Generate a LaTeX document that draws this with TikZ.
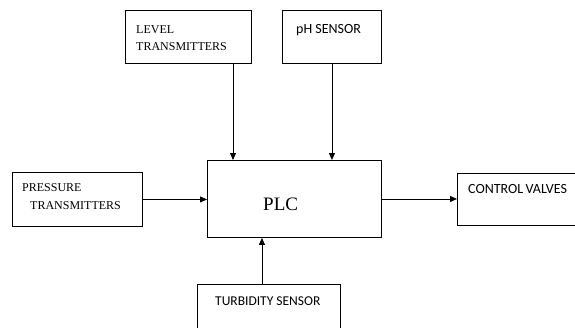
\documentclass[tikz,border=0pt]{standalone}
\usepackage{fontspec}
\setmainfont{Liberation Serif}
\newfontfamily\calibri{Carlito}
\usetikzlibrary{arrows.meta}

\begin{document}
\begin{tikzpicture}[x=1pt, y=-1pt,
  box/.style={rectangle, draw=black, line width=0.9pt, inner sep=0pt, anchor=north west},
  serif/.style={font=\fontsize{12}{17}\selectfont, inner sep=0pt, anchor=north west, align=left},
  sans/.style={font=\calibri\fontsize{14}{17}\selectfont, inner sep=0pt, anchor=north west},
  arrow/.style={-{Triangle[length=7pt, width=6pt]}, line width=0.9pt}
]
\clip (0,0) rectangle (575,327);

% boxes
\node[box, minimum width=174pt, minimum height=77pt] (plc) at (207,160) {};
\node[box, minimum width=126pt, minimum height=53pt] (level) at (125,10) {};
\node[box, minimum width=99pt, minimum height=53pt] (ph) at (282,10) {};
\node[box, minimum width=130pt, minimum height=54pt] (pressure) at (12,172) {};
\node[box, minimum width=140pt, minimum height=52pt] (valves) at (457,173) {};
\node[box, minimum width=143pt, minimum height=54pt] (turbidity) at (197,284) {};

% texts
\node[font=\fontsize{19}{22}\selectfont, inner sep=0pt, anchor=north west]
  (plctxt) at ([shift={(56,38)}]plc.north west) {PLC};
\node[serif] (leveltxt) at ([shift={(11,15)}]level.north west) {LEVEL\\TRANSMITTERS};
\node[sans] (phtxt) at ([shift={(14,14)}]ph.north west) {pH SENSOR};
\node[serif, font=\fontsize{12}{18}\selectfont] (pressuretxt) at ([shift={(10,11)}]pressure.north west)
  {PRESSURE\\\hspace*{8pt}TRANSMITTERS};
\node[sans] (valvestxt) at ([shift={(11,11)}]valves.north west) {CONTROL\,VALVES};
\node[sans, font=\calibri\fontsize{13.5}{17}\selectfont] (turbiditytxt) at ([shift={(18,13)}]turbidity.north west) {TURBIDITY SENSOR};

% connectors
\coordinate (levelin) at ([shift={(26,0)}]plc.north west);
\coordinate (turbout) at ([shift={(-7,0)}]turbidity.north);
\draw[arrow] (level.south -| levelin) -- (levelin);
\draw[arrow] (ph.south) -- (ph.south |- plc.north);
\draw[arrow] (pressure.east) -- (pressure.east -| plc.west);
\draw[arrow] (plc.east) -- (plc.east -| valves.west);
\draw[arrow] (turbout) -- (turbout |- plc.south);
\end{tikzpicture}
\end{document}
